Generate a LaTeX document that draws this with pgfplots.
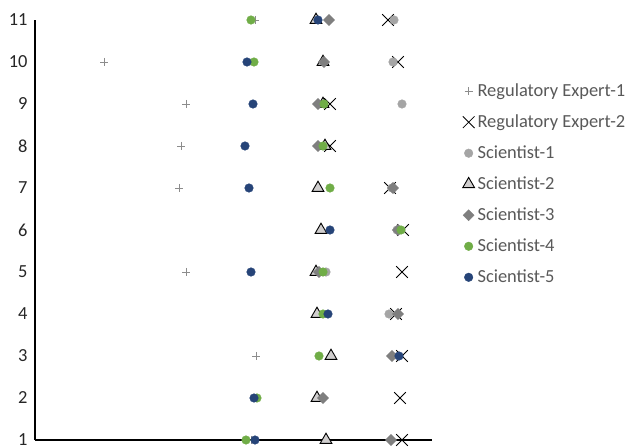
\documentclass[border=0pt]{standalone}
\usepackage{pgfplots}
\pgfplotsset{compat=1.18}
\usepackage{fontspec}
\setmainfont{Carlito}
\definecolor{txt}{HTML}{595959}
\definecolor{plusgray}{HTML}{8C8C8C}
\definecolor{sone}{HTML}{A5A5A5}
\definecolor{stwo}{HTML}{D0CECE}
\definecolor{sthree}{HTML}{7F7F7F}
\definecolor{sfour}{HTML}{70AD47}
\definecolor{sfive}{HTML}{264478}
\begin{document}
\begin{tikzpicture}
\begin{axis}[
  scale only axis, width=397bp, height=420bp,
  xmin=35, xmax=432, ymin=1, ymax=11,
  axis x line=bottom, axis y line=left,
  axis line style={-, line width=1.6bp, black},
  xtick=\empty, ytick={1,...,11},
  major tick length=0pt,
  yticklabel style={font=\fontsize{18.5}{22}\selectfont, text=black!85, xshift=-4bp},
  /pgf/number format/assume math mode=true,
  clip=false,
  legend style={at={(rel axis cs:1.077,0.853)}, anchor=north west, draw=none,
    font=\fontsize{18.5}{22}\selectfont, text=txt, row sep=12.8bp,
    cells={anchor=west}, inner sep=0pt,
    nodes={inner xsep=3bp}},
  legend cell align=left,
]
\addplot[only marks, mark=+, mark size=4bp, plusgray, line width=0.6bp] coordinates
 {(255,11) (104,10) (186,9) (181,8) (179,7) (186,5) (256,3) (251,1)};
\addlegendentry{Regulatory Expert-1}
\addplot[only marks, mark=x, mark size=8.3bp, black, line width=0.8bp] coordinates
 {(388,11) (398,10) (330,9) (330,8) (390,7) (403,6) (402,5) (396,4) (402,3) (400,2) (402,1)};
\addlegendentry{Regulatory Expert-2}
\addplot[only marks, mark=*, mark size=4.3bp, draw=sone, fill=sone] coordinates
 {(394,11) (393,10) (402,9) (392,7) (397,6) (326,5) (389,4)};
\addlegendentry{Scientist-1}
\addplot[only marks, mark=triangle*, mark size=6.8bp, draw=black, fill=stwo, line width=0.9bp] coordinates
 {(316,11) (323,10) (323,9) (325,8) (318,7) (321,6) (316,5) (317,4) (331,3) (317,2) (326,1)};
\addlegendentry{Scientist-2}
\addplot[only marks, mark=square*, mark size=3.9bp, mark options={rotate=45}, draw=sthree, fill=sthree] coordinates
 {(329,11) (324,10) (318,9) (318,8) (393,7) (398,6) (319,5) (398,4) (392,3) (323,2) (391,1)};
\addlegendentry{Scientist-3}
\addplot[only marks, mark=*, mark size=4.3bp, draw=sfour, fill=sfour] coordinates
 {(251,11) (254,10) (324,9) (323,8) (330,7) (401,6) (323,5) (323,4) (319,3) (257,2) (246,1)};
\addlegendentry{Scientist-4}
\addplot[only marks, mark=*, mark size=4.3bp, draw=sfive, fill=sfive] coordinates
 {(318,11) (247,10) (253,9) (245,8) (249,7) (330,6) (251,5) (328,4) (399,3) (254,2) (255,1)};
\addlegendentry{Scientist-5}
\end{axis}
\pgfresetboundingbox
\path[use as bounding box] (-35bp,-8bp) rectangle (595bp,440bp);
\end{tikzpicture}
\end{document}
